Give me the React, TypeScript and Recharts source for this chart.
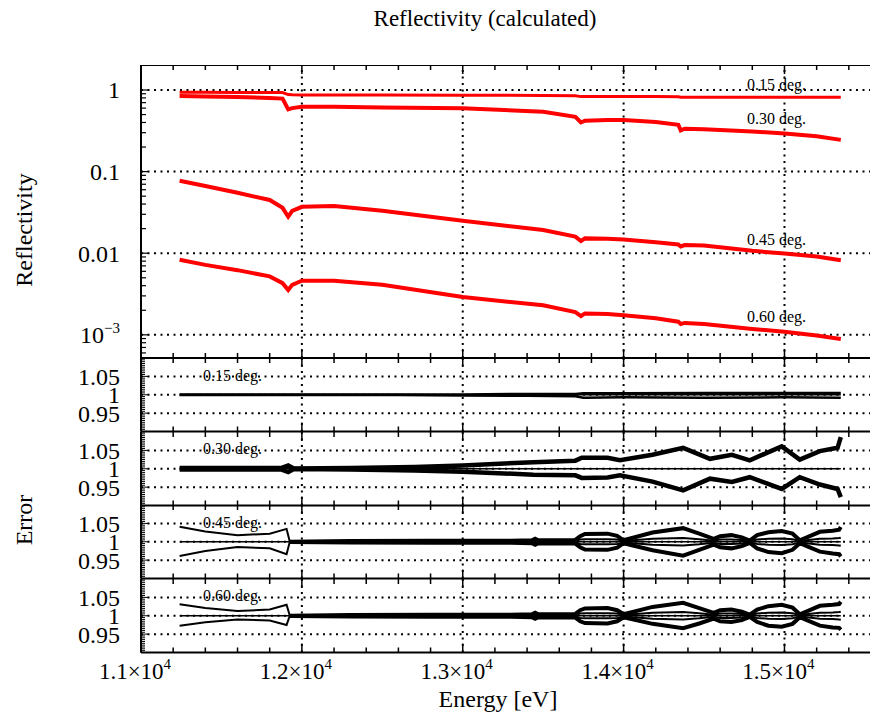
import React from "react";
import { LineChart, Line, XAxis, YAxis, ReferenceLine } from "recharts";

const FONT = '"Liberation Serif", "Times New Roman", Times, serif';
const CHART_W = 881;
const PLOT_LEFT = 141;
const AXIS_H = 40;

// energy axis (eV)
const xTicks = [
  11000, 11200, 11400, 11600, 11800, 12000, 12200, 12400, 12600, 12800, 13000, 13200,
  13400, 13600, 13800, 14000, 14200, 14400, 14600, 14800, 15000, 15200, 15400, 15600,
];
const xGrid = [12000, 13000, 14000, 15000];

// reflectivity vs energy, one array per grazing angle
const energy = [
  11240, 11400, 11600, 11800, 11880, 11915, 11940, 12000, 12200, 12500, 13000, 13500, 13700,
  13735, 13760, 13900, 14000, 14200, 14340, 14355, 14380, 14500, 14800, 15000, 15200, 15350,
];
const refl015 = [
  0.937, 0.936, 0.935, 0.934, 0.932, 0.88, 0.872, 0.87, 0.869, 0.867, 0.864, 0.858, 0.852,
  0.83, 0.835, 0.834, 0.833, 0.83, 0.826, 0.815, 0.818, 0.818, 0.816, 0.815, 0.814, 0.813,
];
const refl030 = [
  0.845, 0.835, 0.82, 0.8, 0.785, 0.58, 0.6, 0.625, 0.622, 0.61, 0.596, 0.542, 0.47,
  0.4, 0.42, 0.43, 0.43, 0.405, 0.375, 0.32, 0.335, 0.33, 0.31, 0.294, 0.272, 0.245,
];
const refl045 = [
  0.0774, 0.0667, 0.055, 0.0449, 0.036, 0.028, 0.033, 0.037, 0.0378, 0.0332, 0.025, 0.0192, 0.016,
  0.0141, 0.0152, 0.015, 0.0147, 0.0136, 0.0128, 0.0121, 0.0126, 0.0124, 0.0107, 0.0099, 0.0091, 0.0082,
];
const refl060 = [
  0.0083, 0.0072, 0.0062, 0.0052, 0.0043, 0.00354, 0.0041, 0.0046, 0.0046, 0.0041, 0.0029, 0.0023, 0.0019,
  0.0017, 0.00183, 0.0018, 0.00174, 0.0016, 0.00145, 0.00136, 0.0014, 0.00136, 0.00118, 0.00109, 0.00098, 0.00089,
];

const logTicks = [
  0.0006, 0.0007, 0.0008, 0.0009, 0.001, 0.002, 0.003, 0.004, 0.005, 0.006, 0.007, 0.008, 0.009,
  0.01, 0.02, 0.03, 0.04, 0.05, 0.06, 0.07, 0.08, 0.09, 0.1, 0.2, 0.3, 0.4, 0.5, 0.6, 0.7, 0.8, 0.9, 1, 2,
];
const logGrid = [0.001, 0.01, 0.1, 1];

// error panels
const errTicks = [
  0.9, 0.905, 0.91, 0.915, 0.92, 0.925, 0.93, 0.935, 0.94, 0.945, 0.95, 0.955, 0.96, 0.965,
  0.97, 0.975, 0.98, 0.985, 0.99, 0.995, 1, 1.005, 1.01, 1.015, 1.02, 1.025, 1.03, 1.035,
  1.04, 1.045, 1.05, 1.055, 1.06, 1.065, 1.07, 1.075, 1.08, 1.085, 1.09, 1.095, 1.1,
];
const errGrid = [0.95, 1, 1.05];
const unityE = [11240, 15350];
const unityV = [1, 1];

const err015E = [11240, 12000, 12600, 13000, 13400, 13700, 13750, 14000, 14500, 15000, 15350];
const err015Hi = [1.001, 1.001, 1.001, 1.001, 1.002, 1.002, 1.004, 1.004, 1.005, 1.005, 1.005];
const err015Lo = [0.999, 0.999, 0.999, 0.998, 0.997, 0.996, 0.992, 0.993, 0.992, 0.993, 0.992];

const err030E = [
  11240, 11600, 11870, 11915, 11950, 12300, 12700, 13000, 13440, 13700, 13740, 13900,
  13977, 14180, 14370, 14537, 14673, 14784, 14983, 15095, 15220, 15330, 15350,
];
const err030Hi = [
  1.002, 1.002, 1.002, 1.009, 1.001, 1.002, 1.005, 1.009, 1.018, 1.022, 1.03, 1.03,
  1.023, 1.038, 1.057, 1.027, 1.038, 1.023, 1.061, 1.025, 1.048, 1.057, 1.086,
];
const err030Lo = [
  0.998, 0.998, 0.998, 0.991, 0.999, 0.998, 0.995, 0.992, 0.984, 0.982, 0.975, 0.976,
  0.982, 0.965, 0.941, 0.973, 0.964, 0.977, 0.945, 0.977, 0.957, 0.945, 0.923,
];

const preEdgeE = [11240, 11400, 11600, 11800, 11905, 11925];
const pre045Hi = [1.041, 1.028, 1.018, 1.022, 1.035, 1.0];
const pre045Lo = [0.961, 0.975, 0.986, 0.982, 0.966, 1.0];
const pre060Hi = [1.031, 1.021, 1.013, 1.017, 1.03, 1.0];
const pre060Lo = [0.973, 0.982, 0.99, 0.987, 0.975, 1.0];

const postEdgeE = [
  11925, 12300, 12800, 13300, 13430, 13450, 13470, 13700, 13730, 13760, 13900, 13960, 14000, 14180,
  14370, 14470, 14560, 14600, 14670, 14735, 14784, 14830, 14900, 14983, 15050, 15095, 15150, 15220,
  15300, 15340, 15350,
];
const post045Hi = [
  1.0, 1.002, 1.003, 1.003, 1.004, 1.008, 1.004, 1.005, 1.015, 1.021, 1.022, 1.016, 1.004, 1.025,
  1.037, 1.022, 1.008, 1.015, 1.018, 1.012, 1.003, 1.018, 1.026, 1.029, 1.022, 1.004, 1.014, 1.027,
  1.03, 1.033, 1.04,
];
const post045Lo = [
  0.999, 0.998, 0.997, 0.997, 0.996, 0.992, 0.996, 0.995, 0.985, 0.979, 0.978, 0.984, 0.996, 0.977,
  0.962, 0.978, 0.992, 0.985, 0.982, 0.988, 0.997, 0.982, 0.972, 0.969, 0.978, 0.996, 0.986, 0.973,
  0.968, 0.966, 0.96,
];
const post060Hi = [
  1.0, 1.002, 1.003, 1.003, 1.004, 1.008, 1.004, 1.005, 1.015, 1.02, 1.021, 1.015, 1.004, 1.024,
  1.035, 1.021, 1.008, 1.015, 1.017, 1.011, 1.003, 1.017, 1.026, 1.03, 1.022, 1.004, 1.014, 1.027,
  1.03, 1.032, 1.038,
];
const post060Lo = [
  0.999, 0.998, 0.997, 0.997, 0.996, 0.992, 0.996, 0.995, 0.985, 0.98, 0.979, 0.985, 0.996, 0.978,
  0.966, 0.979, 0.992, 0.985, 0.983, 0.988, 0.997, 0.983, 0.973, 0.97, 0.978, 0.996, 0.986, 0.973,
  0.968, 0.967, 0.962,
];
const innerHi = [
  1.0, 1.001, 1.001, 1.001, 1.001, 1.003, 1.001, 1.002, 1.006, 1.007, 1.007, 1.006, 1.002, 1.008,
  1.01, 1.007, 1.003, 1.006, 1.006, 1.005, 1.001, 1.006, 1.008, 1.009, 1.007, 1.002, 1.005, 1.008,
  1.009, 1.01, 1.011,
];
const innerLo = [
  1.0, 0.999, 0.999, 0.999, 0.999, 0.997, 0.999, 0.998, 0.994, 0.993, 0.993, 0.994, 0.998, 0.992,
  0.99, 0.993, 0.997, 0.994, 0.994, 0.995, 0.999, 0.994, 0.992, 0.991, 0.993, 0.998, 0.995, 0.992,
  0.991, 0.99, 0.989,
];

const pts = (es: number[], vs: number[]) => es.map((e, i) => ({ e, v: vs[i] }));

const mainRows = energy.map((e, i) => ({
  e,
  r15: refl015[i],
  r30: refl030[i],
  r45: refl045[i],
  r60: refl060[i],
}));

const XTick = (props: any) => {
  const { x, y, payload, plotH, labels } = props;
  const v = payload.value as number;
  const major = v % 1000 === 0;
  const len = major ? 9 : 5;
  return (
    <g>
      <line x1={x} y1={y} x2={x} y2={y - len} stroke="#000" strokeWidth={1.5} />
      <line x1={x} y1={y - plotH} x2={x} y2={y - plotH + len} stroke="#000" strokeWidth={1.5} />
      {labels && major && (
        <text
          x={x - 6}
          y={y + 26}
          textAnchor="middle"
          fontSize={23}
          fill="#000"
          fontFamily={FONT}
          style={{ fontFamily: FONT }}
        >
          {`${v / 10000}×10`}
          <tspan dy={-10} fontSize={15}>4</tspan>
        </text>
      )}
    </g>
  );
};

const logLabel: Record<string, string> = { "1": "1", "0.1": "0.1", "0.01": "0.01" };

const LogTick = (props: any) => {
  const { x, y, payload } = props;
  const v = payload.value as number;
  const decade = logGrid.includes(v);
  return (
    <g>
      <line x1={x} y1={y} x2={x + (decade ? 8 : 5)} y2={y} stroke="#000" strokeWidth={1.2} />
      {decade && (
        <text
          x={x - 21}
          y={y}
          dy="0.35em"
          textAnchor="end"
          fontSize={24}
          fill="#000"
          fontFamily={FONT}
          style={{ fontFamily: FONT }}
        >
          {v === 0.001 ? (
            <>
              10<tspan dy={-10} fontSize={15}>−3</tspan>
            </>
          ) : (
            logLabel[String(v)]
          )}
        </text>
      )}
    </g>
  );
};

const ErrTick = (props: any) => {
  const { x, y, payload } = props;
  const v = payload.value as number;
  const lab = errGrid.find((g) => Math.abs(g - v) < 1e-6);
  return (
    <g>
      <line x1={x} y1={y} x2={x + (lab !== undefined ? 7 : 4)} y2={y} stroke="#000" strokeWidth={1} />
      {lab !== undefined && (
        <text
          x={x - 21}
          y={y}
          dy="0.35em"
          textAnchor="end"
          fontSize={24}
          fill="#000"
          fontFamily={FONT}
          style={{ fontFamily: FONT }}
        >
          {String(lab)}
        </text>
      )}
    </g>
  );
};

const dotted = { stroke: "#000", strokeWidth: 2, strokeDasharray: "2 4.5" };

const renderXAxis = (plotH: number, labels: boolean) => (
  <XAxis
    dataKey="e"
    type="number"
    domain={[11000, 15600]}
    ticks={xTicks}
    interval={0}
    tickSize={0}
    tickMargin={0}
    height={AXIS_H}
    allowDataOverflow
    tickLine={false}
    axisLine={{ stroke: "#000", strokeWidth: 2 }}
    tick={(p: any) => <XTick {...p} plotH={plotH} labels={labels} />}
  />
);

const MainPanel = () => {
  const h = 293;
  return (
    <LineChart
      width={CHART_W}
      height={h + AXIS_H}
      data={mainRows}
      margin={{ top: 0, right: 0, bottom: 0, left: 0 }}
      style={{ position: "absolute", left: 0, top: 65 }}
    >
      {renderXAxis(h, false)}
      <YAxis
        type="number"
        scale="log"
        domain={[0.00052, 2.025]}
        ticks={logTicks}
        interval={0}
        width={PLOT_LEFT}
        tickSize={0}
        tickMargin={0}
        tickLine={false}
        allowDataOverflow
        axisLine={{ stroke: "#000", strokeWidth: 2 }}
        tick={(p: any) => <LogTick {...p} />}
      />
      <ReferenceLine y={2.025} stroke="#000" strokeWidth={2} />
      {xGrid.map((g) => (
        <ReferenceLine key={`x${g}`} x={g} {...dotted} />
      ))}
      {logGrid.map((g) => (
        <ReferenceLine key={`y${g}`} y={g} {...dotted} />
      ))}
      <Line dataKey="r15" stroke="#ff0000" strokeWidth={3} dot={false} isAnimationActive={false} />
      <Line dataKey="r30" stroke="#ff0000" strokeWidth={4} dot={false} isAnimationActive={false} />
      <Line dataKey="r45" stroke="#ff0000" strokeWidth={4} dot={false} isAnimationActive={false} />
      <Line dataKey="r60" stroke="#ff0000" strokeWidth={4} dot={false} isAnimationActive={false} />
    </LineChart>
  );
};

type Series = { name: string; data: { e: number; v: number }[]; width: number };

const ErrPanel = ({ top, series, labels }: { top: number; series: Series[]; labels?: boolean }) => {
  const h = 73.5;
  return (
    <LineChart
      width={CHART_W}
      height={h + AXIS_H}
      margin={{ top: 0, right: 0, bottom: 0, left: 0 }}
      style={{ position: "absolute", left: 0, top }}
    >
      {renderXAxis(h, !!labels)}
      <YAxis
        type="number"
        domain={[0.9, 1.1]}
        ticks={errTicks}
        interval={0}
        width={PLOT_LEFT}
        tickSize={0}
        tickMargin={0}
        tickLine={false}
        allowDataOverflow
        axisLine={{ stroke: "#000", strokeWidth: 2 }}
        tick={(p: any) => <ErrTick {...p} />}
      />
      {xGrid.map((g) => (
        <ReferenceLine key={`x${g}`} x={g} {...dotted} />
      ))}
      {errGrid.map((g) => (
        <ReferenceLine key={`y${g}`} y={g} {...dotted} />
      ))}
      {series.map((s) => (
        <Line
          key={s.name}
          data={s.data}
          dataKey="v"
          stroke="#000"
          strokeWidth={s.width}
          dot={false}
          isAnimationActive={false}
        />
      ))}
    </LineChart>
  );
};

const unity = { name: "unity", data: pts(unityE, unityV), width: 1.5 };

const panel015: Series[] = [
  unity,
  { name: "hi", data: pts(err015E, err015Hi), width: 2.5 },
  { name: "lo", data: pts(err015E, err015Lo), width: 2.5 },
];
const panel030: Series[] = [
  unity,
  { name: "hi", data: pts(err030E, err030Hi), width: 4.5 },
  { name: "lo", data: pts(err030E, err030Lo), width: 4.5 },
];
const panel045: Series[] = [
  unity,
  { name: "preHi", data: pts(preEdgeE, pre045Hi), width: 2 },
  { name: "preLo", data: pts(preEdgeE, pre045Lo), width: 2 },
  { name: "inHi", data: pts(postEdgeE, innerHi), width: 2 },
  { name: "inLo", data: pts(postEdgeE, innerLo), width: 2 },
  { name: "hi", data: pts(postEdgeE, post045Hi), width: 4 },
  { name: "lo", data: pts(postEdgeE, post045Lo), width: 4 },
];
const panel060: Series[] = [
  unity,
  { name: "preHi", data: pts(preEdgeE, pre060Hi), width: 2 },
  { name: "preLo", data: pts(preEdgeE, pre060Lo), width: 2 },
  { name: "inHi", data: pts(postEdgeE, innerHi), width: 2 },
  { name: "inLo", data: pts(postEdgeE, innerLo), width: 2 },
  { name: "hi", data: pts(postEdgeE, post060Hi), width: 4 },
  { name: "lo", data: pts(postEdgeE, post060Lo), width: 4 },
];

const angleLabels = [
  { text: "0.15 deg.", y: 84 },
  { text: "0.30 deg.", y: 118 },
  { text: "0.45 deg.", y: 239 },
  { text: "0.60 deg.", y: 316 },
];
const panelTops = [358, 431.5, 505, 578.5];

export default function App() {
  return (
    <div
      style={{
        position: "absolute",
        left: 0,
        top: 0,
        width: 870,
        height: 712,
        overflow: "hidden",
        background: "#fff",
        fontFamily: FONT,
      }}
    >
      <MainPanel />
      <ErrPanel top={panelTops[0]} series={panel015} />
      <ErrPanel top={panelTops[1]} series={panel030} />
      <ErrPanel top={panelTops[2]} series={panel045} />
      <ErrPanel top={panelTops[3]} series={panel060} labels />
      <svg
        width={870}
        height={712}
        style={{ position: "absolute", left: 0, top: 0, pointerEvents: "none", fontFamily: FONT }}
      >
        <text x={485} y={26} textAnchor="middle" fontSize={23} fill="#000">
          Reflectivity (calculated)
        </text>
        <text x={32} y={230} textAnchor="middle" fontSize={24} fill="#000" transform="rotate(-90 32 230)">
          Reflectivity
        </text>
        <text x={32} y={520} textAnchor="middle" fontSize={24} fill="#000" transform="rotate(-90 32 520)">
          Error
        </text>
        <text x={498} y={707} textAnchor="middle" fontSize={24} fill="#000">
          Energy [eV]
        </text>
        {angleLabels.map((l) => (
          <text key={l.text} x={747} y={l.y} dy="0.35em" fontSize={16} fill="#000">
            {l.text}
          </text>
        ))}
        {angleLabels.map((l, i) => (
          <text key={`s${l.text}`} x={203} y={panelTops[i] + 17} dy="0.35em" fontSize={16} fill="#000">
            {l.text}
          </text>
        ))}
      </svg>
    </div>
  );
}
